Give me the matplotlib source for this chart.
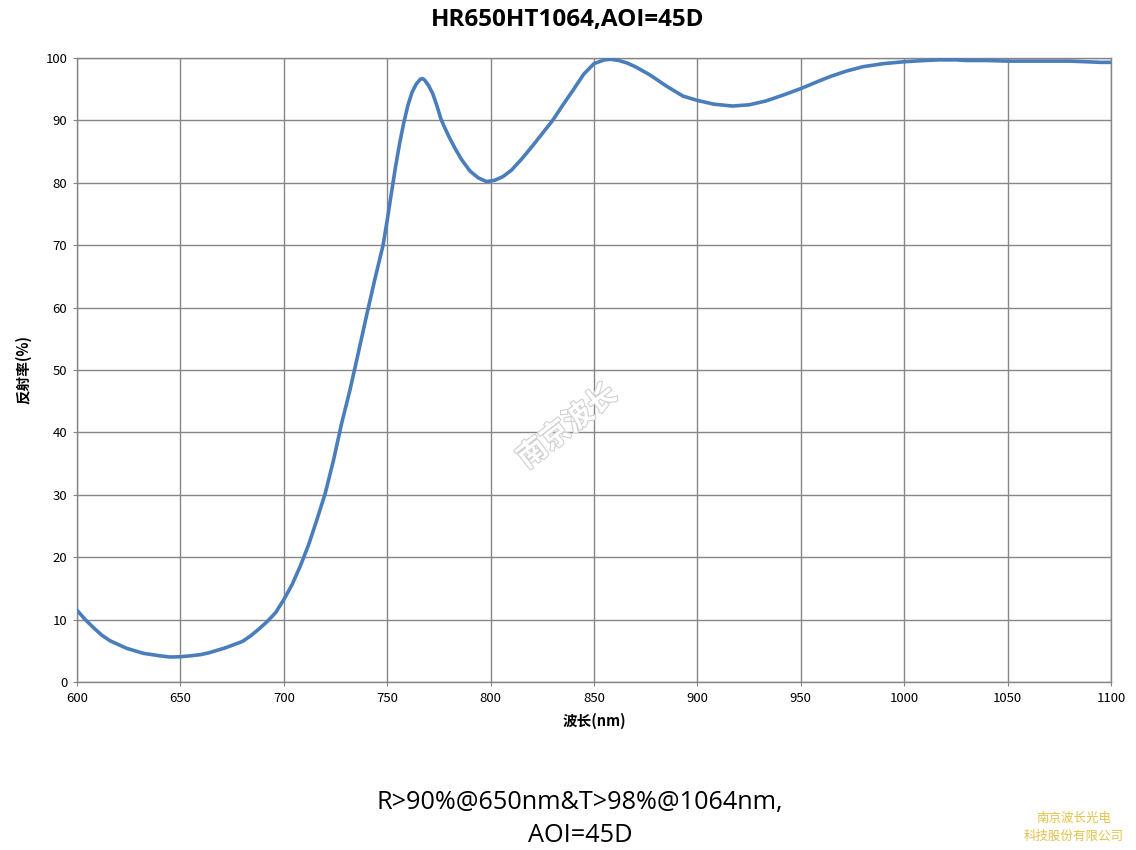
import matplotlib
matplotlib.use("Agg")
import matplotlib.pyplot as plt
import matplotlib.patheffects as pe

wavelength = [600, 604, 608, 612, 616, 620, 624, 628, 632, 636, 640, 645, 650, 655, 660,
              664, 668, 672, 676, 680, 684, 688, 692, 696, 700, 704, 708, 712, 716, 720,
              724, 728, 732, 736, 740, 744, 748, 750, 752, 754, 756, 758, 760, 762, 764,
              766, 767, 768, 770, 772, 774, 776, 778, 780, 783, 786, 790, 794, 798, 802,
              806, 810, 815, 820, 825, 830, 835, 840, 845, 850, 855, 858, 862, 866, 870,
              877, 885, 893, 900, 908, 917, 925, 933, 941, 950, 958, 964, 972, 980, 990,
              1000, 1010, 1017, 1025, 1030, 1040, 1050, 1060, 1070, 1080, 1088, 1095, 1100]
reflectance = [11.5, 10.0, 8.7, 7.5, 6.6, 6.0, 5.4, 5.0, 4.6, 4.4, 4.2, 4.0, 4.05, 4.2, 4.4,
               4.7, 5.1, 5.5, 6.0, 6.5, 7.4, 8.5, 9.7, 11.1, 13.2, 15.6, 18.6, 22.0, 26.0, 30.2,
               35.5, 41.5, 46.8, 52.7, 58.7, 64.5, 70.0, 74.0, 78.3, 82.5, 86.3, 89.6, 92.4, 94.5, 95.8,
               96.6, 96.7, 96.5, 95.6, 94.3, 92.4, 90.2, 88.7, 87.3, 85.4, 83.7, 81.9, 80.8, 80.2, 80.4,
               81.0, 82.0, 83.8, 85.8, 87.9, 90.0, 92.5, 94.9, 97.4, 99.1, 99.7, 99.8, 99.6, 99.2, 98.6,
               97.3, 95.5, 93.9, 93.2, 92.6, 92.3, 92.5, 93.1, 94.0, 95.1, 96.2, 97.0, 97.9, 98.6, 99.1,
               99.4, 99.6, 99.7, 99.7, 99.6, 99.6, 99.5, 99.5, 99.5, 99.5, 99.4, 99.3, 99.3]

x_ticks = [600, 650, 700, 750, 800, 850, 900, 950, 1000, 1050, 1100]
y_ticks = [0, 10, 20, 30, 40, 50, 60, 70, 80, 90, 100]

title = "HR650HT1064,AOI=45D"
xlabel = "波长(nm)"
ylabel = "反射率(%)"
caption = "R>90%@650nm&T>98%@1064nm,\nAOI=45D"
company = "南京波长光电\n科技股份有限公司"
watermark = "南京波长"

plt.rcParams['font.family'] = ['Noto Sans CJK SC', 'DejaVu Sans']

fig = plt.figure(figsize=(11.36, 8.5), dpi=100)
ax = fig.add_axes([77/1136, 1-682/850, (1111-77)/1136, (682-58)/850])

ax.plot(wavelength, reflectance, color='#4a7ebb', linewidth=2.6, solid_capstyle='round',
        solid_joinstyle='round', zorder=3)

ax.set_xlim(600, 1100)
ax.set_ylim(0, 100)
ax.set_xticks(x_ticks)
ax.set_yticks(y_ticks)
ax.tick_params(axis='both', labelsize=9.5, length=3, color='#868686', pad=4)
ax.grid(True, color='#868686', linewidth=1.0)
for s in ax.spines.values():
    s.set_color('#868686')
    s.set_linewidth(1.0)

ax.set_xlabel(xlabel, fontsize=10.5, fontweight='bold', labelpad=6)
ax.set_ylabel(ylabel, fontsize=10.5, fontweight='bold', labelpad=10)

fig.text(568/1136, 1-20/850, title, ha='center', va='center', fontsize=17.5, fontweight='bold',
         family=['Open Sans', 'DejaVu Sans'])

fig.text(580/1136, 1-819/850, caption, ha='center', va='center', fontsize=18.2,
         family=['Open Sans', 'DejaVu Sans'], linespacing=1.4)

fig.text(1074/1136, 1-827/850, company, ha='center', va='center', fontsize=9,
         color='#e2c24a', linespacing=1.5)

ax.text(837, 41, watermark, ha='center', va='center', fontsize=21, fontweight='bold',
        rotation=38, color='white', zorder=2,
        path_effects=[pe.withStroke(linewidth=1.6, foreground='#d0d0d0')])

fig.savefig("out.png", dpi=100)
